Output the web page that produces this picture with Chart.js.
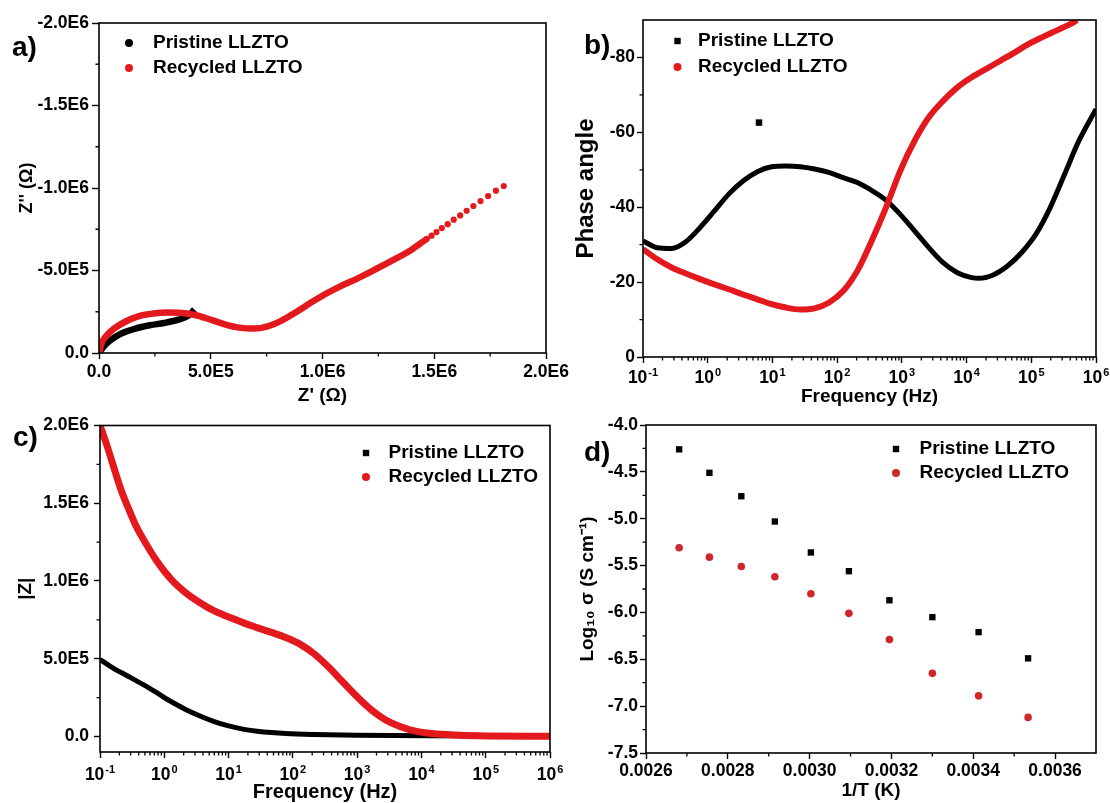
<!DOCTYPE html>
<html>
<head>
<meta charset="utf-8">
<title>LLZTO impedance and conductivity</title>
<script src="https://cdn.jsdelivr.net/npm/chart.js@4.4.1/dist/chart.umd.min.js"></script>
<style>
  body { margin: 0; background: #fff; }
  #fig { position: relative; width: 1110px; height: 803px; overflow: hidden; font-family: "Liberation Sans", Arial, sans-serif; }
  #fig canvas { position: absolute; }
  .tag { position: absolute; font-weight: bold; font-size: 28px; line-height: 28px; color: #000; }
</style>
</head>
<body>
<div id="fig">
  <canvas id="nyquist" width="575" height="410" style="left:0;top:0"></canvas>
  <canvas id="phase" width="550" height="410" style="left:560px;top:0"></canvas>
  <canvas id="modulus" width="575" height="393" style="left:0;top:410px"></canvas>
  <canvas id="arrhenius" width="550" height="393" style="left:560px;top:410px"></canvas>
  <div class="tag" style="left:12px;top:33px">a)</div>
  <div class="tag" style="left:584px;top:31px">b)</div>
  <div class="tag" style="left:13px;top:423px">c)</div>
  <div class="tag" style="left:584px;top:438px">d)</div>
</div>
<script>
const FONT = '"Liberation Sans", Arial, sans-serif';
const RED = '#e3191e';
const BLACK = '#000';
const SERIES = ['Pristine LLZTO', 'Recycled LLZTO'];

// (a) Nyquist plot: Z' and Z'' in ohm
const nyqPristineRe = [0, 0.019e6, 0.051e6, 0.099e6, 0.163e6, 0.227e6, 0.291e6, 0.355e6, 0.403e6, 0.427e6];
const nyqPristineIm = [0, -0.036e6, -0.077e6, -0.117e6, -0.148e6, -0.168e6, -0.182e6, -0.202e6, -0.229e6, -0.263e6];
const nyqRecycledRe = [0, 0.011e6, 0.035e6, 0.067e6, 0.115e6, 0.179e6, 0.243e6, 0.307e6, 0.371e6, 0.435e6,
  0.499e6, 0.563e6, 0.627e6, 0.691e6, 0.755e6, 0.819e6, 0.883e6, 0.947e6, 1.011e6, 1.075e6,
  1.155e6, 1.235e6, 1.315e6, 1.395e6, 1.467e6, 1.488e6, 1.510e6, 1.534e6, 1.560e6, 1.587e6,
  1.616e6, 1.645e6, 1.675e6, 1.707e6, 1.741e6, 1.776e6, 1.811e6];
const nyqRecycledIm = [0, -0.057e6, -0.107e6, -0.148e6, -0.188e6, -0.223e6, -0.239e6, -0.245e6, -0.243e6, -0.229e6,
  -0.202e6, -0.174e6, -0.154e6, -0.148e6, -0.162e6, -0.198e6, -0.249e6, -0.304e6, -0.356e6, -0.401e6,
  -0.451e6, -0.506e6, -0.563e6, -0.623e6, -0.692e6, -0.711e6, -0.733e6, -0.757e6, -0.781e6, -0.808e6,
  -0.834e6, -0.862e6, -0.891e6, -0.921e6, -0.951e6, -0.984e6, -1.012e6];
const nyqTicksX = [0, 5e5, 1e6, 1.5e6, 2e6];
const nyqMinorX = [2.5e5, 7.5e5, 1.25e6, 1.75e6];
const nyqTicksY = [0, -5e5, -1e6, -1.5e6, -2e6];
const nyqMinorY = [-2.5e5, -7.5e5, -1.25e6, -1.75e6];

// (b) Bode phase, frequency in Hz, phase in degrees
const phaseFreq = [0.1, 0.166, 0.277, 0.459, 0.764, 1.27, 2.11, 3.52, 5.85, 9.71, 16.1, 26.9, 44.7, 74.3,
  124, 205, 341, 568, 944, 1570, 2610, 4340, 7210, 12000, 15500, 25700, 42800, 71100, 118000,
  196000, 327000, 543000, 1000000];
const phasePristine = [-31.0, -29.2, -29.0, -30.8, -34.6, -39.0, -43.5, -47.0, -49.5, -50.8, -51.0, -50.8,
  -50.2, -49.3, -47.9, -46.6, -44.5, -41.9, -38.1, -33.7, -29.2, -25.2, -22.5, -21.2, -21.0, -21.9,
  -24.3, -27.9, -32.8, -39.9, -48.8, -57.7, -66.2];
const phaseRecFreq = [0.1, 0.166, 0.277, 0.459, 0.764, 1.27, 2.11, 3.52, 5.85, 9.71, 16.1, 26.9, 44.7, 74.3,
  124, 205, 341, 568, 944, 1570, 2610, 4340, 7210, 12000, 19900, 33100, 55000, 91500, 152000,
  253000, 420000, 510000];
const phaseRecycled = [-28.8, -26.1, -23.9, -22.3, -20.8, -19.4, -18.1, -16.7, -15.4, -14.1, -13.2, -12.7,
  -13.0, -14.5, -17.6, -23.0, -31.0, -39.9, -49.7, -57.7, -64.0, -68.4, -72.0, -74.7, -76.9, -79.1,
  -81.3, -83.6, -85.5, -87.3, -89.1, -90.0];
const phaseStrayFreq = [6.2];
const phaseStray = [-62.6];
const phaseTicksY = [0, -20, -40, -60, -80];
const phaseMinorY = [-10, -30, -50, -70];

// (c) Bode modulus |Z| in ohm
const modPriFreq = [0.1, 0.167, 0.278, 0.464, 0.774, 1.29, 2.15, 3.59, 5.99, 10, 16.7, 27.8, 46.4, 77.4,
  215, 1000, 12900, 1000000];
const modPristine = [0.495e6, 0.435e6, 0.386e6, 0.335e6, 0.280e6, 0.223e6, 0.174e6, 0.132e6, 0.096e6,
  0.068e6, 0.047e6, 0.034e6, 0.025e6, 0.019e6, 0.013e6, 0.008e6, 0.004e6, 0.002e6];
const modRecFreq = [0.1, 0.129, 0.167, 0.215, 0.278, 0.359, 0.464, 0.774, 1.29, 2.15, 3.59, 5.99, 10,
  16.7, 27.8, 46.4, 77.4, 129, 215, 359, 599, 1000, 1670, 2780, 4640, 7740, 12900, 27800, 77400, 1000000];
const modRecycled = [2.0e6, 1.868e6, 1.72e6, 1.58e6, 1.465e6, 1.359e6, 1.274e6, 1.125e6, 1.008e6, 0.924e6,
  0.86e6, 0.807e6, 0.769e6, 0.732e6, 0.70e6, 0.669e6, 0.637e6, 0.594e6, 0.531e6, 0.446e6, 0.350e6,
  0.255e6, 0.170e6, 0.106e6, 0.064e6, 0.036e6, 0.021e6, 0.011e6, 0.004e6, 0.001e6];
const modTicksY = [0, 5e5, 1e6, 1.5e6, 2e6];
const modMinorY = [2.5e5, 7.5e5, 1.25e6, 1.75e6];

// shared log frequency axis: decades and their exponents
const decades = [0.1, 1, 10, 100, 1e3, 1e4, 1e5, 1e6];
const decadeExp = ['-1', '0', '1', '2', '3', '4', '5', '6'];

// (d) Arrhenius plot
const invT = [0.002681, 0.002755, 0.002833, 0.002915, 0.003003, 0.003096, 0.003195, 0.003300, 0.003413, 0.003534];
const logSigmaPristine = [-4.26, -4.51, -4.76, -5.03, -5.36, -5.56, -5.87, -6.05, -6.21, -6.49];
const logSigmaRecycled = [-5.31, -5.41, -5.51, -5.62, -5.80, -6.01, -6.29, -6.65, -6.89, -7.12];
const arrTicksX = [0.0026, 0.0028, 0.0030, 0.0032, 0.0034, 0.0036];
const arrMinorX = [0.0027, 0.0029, 0.0031, 0.0033, 0.0035];
const arrTicksY = [-4.0, -4.5, -5.0, -5.5, -6.0, -6.5, -7.0, -7.5];
const arrMinorY = [-4.25, -4.75, -5.25, -5.75, -6.25, -6.75, -7.25];

Chart.defaults.font.family = FONT;
Chart.defaults.font.weight = 'bold';
Chart.defaults.color = '#000';
Chart.defaults.animation = false;
Chart.defaults.plugins.legend.display = false;
Chart.defaults.plugins.tooltip.enabled = false;

const pts = (xs, ys) => xs.map((x, i) => ({ x, y: ys[i] }));
const logMinor = decades.slice(0, -1).flatMap(d => [2, 3, 4, 5, 6, 7, 8, 9].map(k => d * k));

function sci(v) {
  if (v === 0) return '0.0';
  const e = Math.floor(Math.log10(Math.abs(v)) + 1e-9);
  return (v / Math.pow(10, e)).toFixed(1) + 'E' + e;
}

// closed box round the plot area, plus short minor ticks
const framePlugin = {
  id: 'frame',
  afterDatasetsDraw(chart, args, o) {
    const { ctx, chartArea: a } = chart;
    ctx.save();
    ctx.strokeStyle = '#000';
    ctx.lineWidth = 1.6;
    ctx.strokeRect(a.left, a.top, a.right - a.left, a.bottom - a.top);
    ctx.lineWidth = 1.3;
    ctx.beginPath();
    (o.xMinor || []).forEach(v => {
      const px = chart.scales.x.getPixelForValue(v);
      ctx.moveTo(px, a.bottom);
      ctx.lineTo(px, a.bottom + 3.5);
    });
    (o.yMinor || []).forEach(v => {
      const py = chart.scales.y.getPixelForValue(v);
      ctx.moveTo(a.left, py);
      ctx.lineTo(a.left - 3.5, py);
    });
    ctx.stroke();
    ctx.restore();
  }
};

// "10" with a raised exponent under each decade of a log axis
const powerPlugin = {
  id: 'powers',
  afterDraw(chart, args, o) {
    if (!o.base) return;
    const { ctx, chartArea: a } = chart;
    const sx = chart.scales.x;
    const big = `bold 17.5px ${FONT}`;
    const small = `bold 11px ${FONT}`;
    ctx.save();
    ctx.fillStyle = '#000';
    ctx.textBaseline = 'alphabetic';
    decades.forEach((v, i) => {
      const px = sx.getPixelForValue(v);
      ctx.font = big;
      const wb = ctx.measureText('10').width;
      ctx.font = small;
      const we = ctx.measureText(decadeExp[i]).width;
      const x0 = px - (wb + we + 1) / 2;
      const y0 = a.bottom + o.base;
      ctx.font = big;
      ctx.fillText('10', x0, y0);
      ctx.font = small;
      ctx.fillText(decadeExp[i], x0 + wb + 1, y0 - 7.5);
    });
    ctx.restore();
  }
};

// legend drawn inside the plot area
const keyPlugin = {
  id: 'key',
  afterDraw(chart, args, o) {
    const ctx = chart.ctx;
    ctx.save();
    ctx.font = `bold 19px ${FONT}`;
    ctx.textBaseline = 'middle';
    chart.data.datasets.filter(ds => ds.label).forEach((ds, i) => {
      const y = o.y + i * o.gap;
      ctx.fillStyle = ds.keyColor;
      ctx.beginPath();
      if (ds.keyShape === 'rect') ctx.rect(o.mark - 3.2, y - 3.2, 6.4, 6.4);
      else ctx.arc(o.mark, y, 4, 0, Math.PI * 2);
      ctx.fill();
      ctx.fillStyle = '#000';
      ctx.fillText(ds.label, o.text, y);
    });
    ctx.restore();
  }
};

function axis(o) {
  return {
    type: o.type || 'linear',
    min: o.min,
    max: o.max,
    reverse: !!o.reverse,
    afterBuildTicks: s => { s.ticks = o.ticks.map(v => ({ value: v })); },
    afterFit: s => {
      if (o.width) s.width = o.width;
      if (o.height) s.height = o.height;
    },
    grid: { display: true, drawOnChartArea: false, drawTicks: true, tickLength: o.tick || 6,
      tickWidth: 1.4, tickColor: '#000', color: '#000' },
    border: { display: false },
    ticks: { display: o.fmt !== null, autoSkip: false, maxRotation: 0, minRotation: 0, padding: o.pad,
      font: { size: o.fs || 17.5, weight: 'bold' }, callback: o.fmt || undefined },
    title: { display: true, text: o.title, font: { size: o.tfs, weight: 'bold', lineHeight: 1 },
      padding: o.tpad }
  };
}

const lineSet = (label, data, color, width, extra) => Object.assign({
  label, data, borderColor: color, backgroundColor: color, borderWidth: width,
  showLine: true, pointRadius: 0, pointBorderWidth: 0, cubicInterpolationMode: 'monotone',
  borderJoinStyle: 'round', keyColor: color
}, extra);

const allPlugins = [framePlugin, powerPlugin, keyPlugin];

// (a)
new Chart(document.getElementById('nyquist'), {
  type: 'scatter',
  data: {
    datasets: [
      lineSet(SERIES[0], pts(nyqPristineRe, nyqPristineIm), BLACK, 6.5, { order: 1, keyShape: 'circle' }),
      lineSet(SERIES[1], pts(nyqRecycledRe, nyqRecycledIm), RED, 6.5, {
        order: 0,
        pointRadius: ctx => (ctx.raw && ctx.raw.x > 1.46e6 ? 3.1 : 0),
        segment: { borderColor: ctx => (ctx.p0.parsed.x >= 1.46e6 ? 'rgba(0,0,0,0)' : undefined) }
      })
    ]
  },
  options: {
    responsive: false,
    layout: { padding: { left: 0, top: 23, right: 29, bottom: 0 } },
    scales: {
      x: axis({ min: 0, max: 2e6, ticks: nyqTicksX, fmt: sci, height: 57, tick: 6, pad: 3,
        title: "Z' (Ω)", tfs: 19, tpad: { top: 0, bottom: 4.5 } }),
      y: axis({ min: -2e6, max: 0, reverse: true, ticks: nyqTicksY, fmt: sci, width: 99, tick: 7, pad: 3,
        title: "Z'' (Ω)", tfs: 18, tpad: { top: 18, bottom: 0 } })
    },
    plugins: {
      frame: { xMinor: nyqMinorX, yMinor: nyqMinorY },
      key: { mark: 129, text: 153, y: 43, gap: 25 }
    }
  },
  plugins: allPlugins
});

// (b)
new Chart(document.getElementById('phase'), {
  type: 'scatter',
  data: {
    datasets: [
      lineSet(SERIES[0], pts(phaseFreq, phasePristine), BLACK, 5, { order: 1, keyShape: 'rect', clip: 0 }),
      lineSet(SERIES[1], pts(phaseRecFreq, phaseRecycled), RED, 6, { order: 0, clip: 0 }),
      { label: '', data: pts(phaseStrayFreq, phaseStray), pointStyle: 'rect', pointRadius: 4.6,
        backgroundColor: BLACK, borderColor: BLACK, borderWidth: 0, order: 1 }
    ]
  },
  options: {
    responsive: false,
    layout: { padding: { left: 0, top: 20, right: 14, bottom: 0 } },
    scales: {
      x: axis({ type: 'logarithmic', min: 0.1, max: 1e6, ticks: decades, fmt: null, height: 53,
        title: 'Frequency (Hz)', tfs: 19, tpad: { top: 0, bottom: 3.5 } }),
      y: axis({ min: -90, max: 0, reverse: true, ticks: phaseTicksY, fmt: v => String(v), width: 83, pad: 2,
        title: 'Phase angle', tfs: 24, tpad: { top: 14, bottom: 0 } })
    },
    plugins: {
      frame: { xMinor: logMinor, yMinor: phaseMinorY },
      powers: { base: 26 },
      key: { mark: 117.5, text: 138, y: 41, gap: 26 }
    }
  },
  plugins: allPlugins
});

// (c)
new Chart(document.getElementById('modulus'), {
  type: 'scatter',
  data: {
    datasets: [
      lineSet(SERIES[0], pts(modPriFreq, modPristine), BLACK, 5, { order: 1, keyShape: 'rect' }),
      lineSet(SERIES[1], pts(modRecFreq, modRecycled), RED, 7, { order: 0 })
    ]
  },
  options: {
    responsive: false,
    layout: { padding: { left: 0, top: 13, right: 25, bottom: 0 } },
    scales: {
      x: axis({ type: 'logarithmic', min: 0.1, max: 1e6, ticks: decades, fmt: null, height: 51,
        title: 'Frequency (Hz)', tfs: 20, tpad: { top: 0, bottom: 0.5 } }),
      y: axis({ min: -1e5, max: 2e6, ticks: modTicksY, fmt: sci, width: 100, pad: 5,
        title: '|Z|', tfs: 19, tpad: { top: 16.5, bottom: 0 } })
    },
    plugins: {
      frame: { xMinor: logMinor, yMinor: modMinorY },
      powers: { base: 28 },
      key: { mark: 366, text: 388.5, y: 43, gap: 24 }
    }
  },
  plugins: allPlugins
});

// (d)
const RED_D = '#cf262c';
new Chart(document.getElementById('arrhenius'), {
  type: 'scatter',
  data: {
    datasets: [
      { label: SERIES[0], data: pts(invT, logSigmaPristine), pointStyle: 'rect', pointRadius: 4.5,
        backgroundColor: BLACK, borderColor: BLACK, borderWidth: 0, keyShape: 'rect', keyColor: BLACK },
      { label: SERIES[1], data: pts(invT, logSigmaRecycled), pointStyle: 'circle', pointRadius: 3.8,
        backgroundColor: RED_D, borderColor: RED_D, borderWidth: 0, keyColor: RED_D }
    ]
  },
  options: {
    responsive: false,
    layout: { padding: { left: 0, top: 15, right: 14, bottom: 0 } },
    scales: {
      x: axis({ min: 0.0026, max: 0.0037, ticks: arrTicksX, fmt: v => v.toFixed(4), height: 50, pad: 2,
        title: '1/T (K)', tfs: 19, tpad: { top: 0, bottom: 2.5 } }),
      y: axis({ min: -7.5, max: -4.0, ticks: arrTicksY, fmt: v => v.toFixed(1), width: 86, pad: 2,
        title: 'Log₁₀ σ (S cm⁻¹)', tfs: 19, tpad: { top: 18.5, bottom: 0 } })
    },
    plugins: {
      frame: { xMinor: arrMinorX, yMinor: arrMinorY },
      key: { mark: 336, text: 359.5, y: 39, gap: 24 }
    }
  },
  plugins: allPlugins
});
</script>
</body>
</html>
